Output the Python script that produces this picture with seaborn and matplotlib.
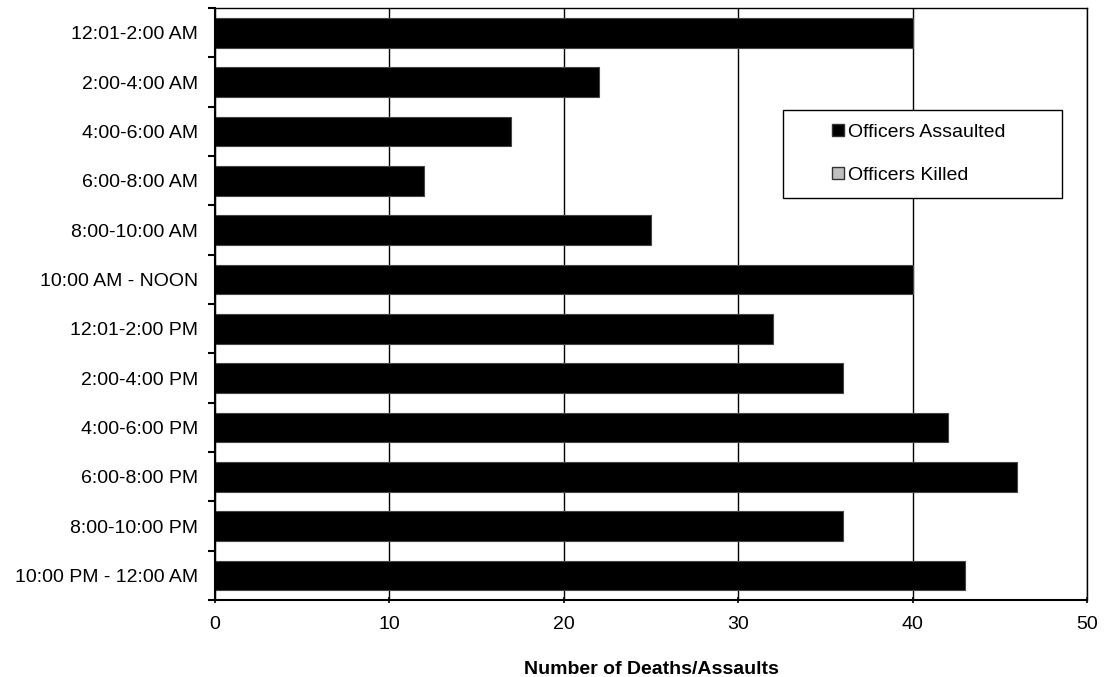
import numpy as np
import pandas as pd
import seaborn as sns
import matplotlib.pyplot as plt
from matplotlib.patches import Patch, Rectangle

periods = ['12:01-2:00 AM', '2:00-4:00 AM', '4:00-6:00 AM', '6:00-8:00 AM',
           '8:00-10:00 AM', '10:00 AM - NOON', '12:01-2:00 PM', '2:00-4:00 PM',
           '4:00-6:00 PM', '6:00-8:00 PM', '8:00-10:00 PM', '10:00 PM - 12:00 AM']
assaulted = [40, 22, 17, 12, 25, 40, 32, 36, 42, 46, 36, 43]
killed = [0, 0, 0, 0, 0, 0, 0, 0, 0, 0, 0, 0]

df = pd.DataFrame({'Period': periods, 'Assaulted': assaulted, 'Killed': killed})

sns.set_style('white')
plt.rcParams['font.family'] = ['Liberation Sans', 'DejaVu Sans']
plt.rcParams['text.color'] = 'black'
plt.rcParams['xtick.color'] = 'black'
plt.rcParams['ytick.color'] = 'black'
plt.rcParams['axes.labelcolor'] = 'black'

fig = plt.figure(figsize=(11.04, 6.77), dpi=100)
ax = fig.add_axes([0.1947, 0.1137, 0.79, 0.8743])

sns.barplot(data=df, y='Period', x='Assaulted', orient='h', color='black',
            width=0.6, edgecolor='#444444', linewidth=0.8, ax=ax, order=periods)
sns.barplot(data=df, y='Period', x='Killed', orient='h', color='#c0c0c0',
            width=0.6, linewidth=0, ax=ax, order=periods)

ax.set_xlim(0, 50)
ax.set_ylim(len(periods) - 0.5, -0.5)
ax.set_xticks([0, 10, 20, 30, 40, 50])
ax.xaxis.grid(True, color='black', linewidth=1)
ax.set_axisbelow(True)

# category boundary ticks on the y axis
ax.set_yticks(np.arange(len(periods)))
ax.set_yticklabels(periods)
ax.set_yticks(np.arange(-0.5, len(periods)), minor=True)
ax.tick_params(axis='y', which='major', length=0, labelsize=14, pad=12)
ax.tick_params(axis='y', which='minor', length=5, width=1.5, direction='out', left=True)
ax.tick_params(axis='x', which='major', length=5, width=1.2, direction='inout', bottom=True,
               labelsize=14, pad=9)

for s in ax.spines.values():
    s.set_color('black')
    s.set_linewidth(1)
ax.spines['left'].set_linewidth(1.5)
ax.spines['bottom'].set_linewidth(1.5)

ax.set_ylabel('')
ax.set_xlabel('Number of Deaths/Assaults', fontsize=14, fontweight='bold', labelpad=20)

# legend box drawn separately so it can be wider than its contents
ax.add_patch(Rectangle((0.651, 0.679), 0.320, 0.149, transform=ax.transAxes,
                       facecolor='white', edgecolor='black', linewidth=1, zorder=5))
handles = [Patch(facecolor='black', edgecolor='#333333', label='Officers Assaulted'),
           Patch(facecolor='#c0c0c0', edgecolor='#333333', label='Officers Killed')]
leg = ax.legend(handles=handles, loc='center left', bbox_to_anchor=(0.708, 0.7535),
                frameon=False, fontsize=14, handlelength=0.6,
                handleheight=0.6, handletextpad=0.2, labelspacing=1.35,
                borderpad=0, borderaxespad=0)
leg.set_zorder(6)

plt.savefig('out.png', dpi=100)
